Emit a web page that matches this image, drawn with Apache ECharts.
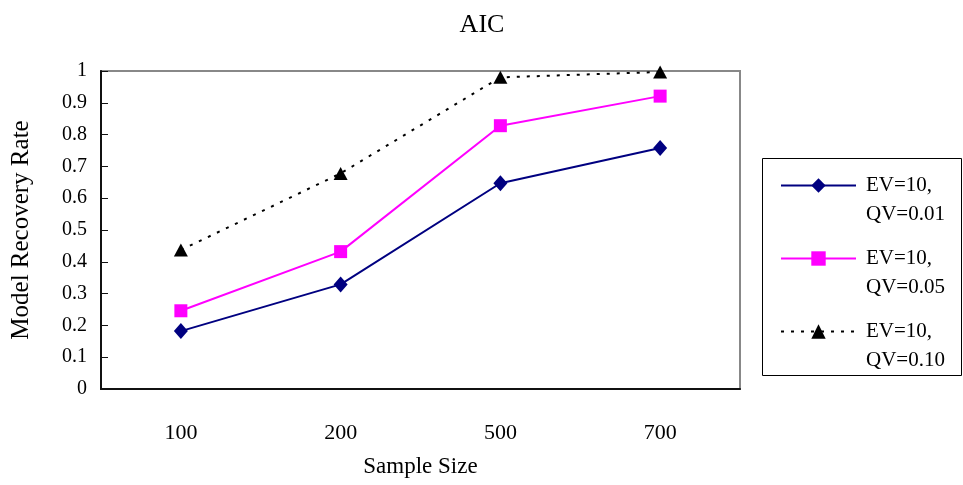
<!DOCTYPE html>
<html>
<head>
<meta charset="utf-8">
<script src="https://cdn.jsdelivr.net/npm/echarts@6/dist/echarts.min.js"></script>
<style>
  html, body { margin: 0; padding: 0; background: #fff; }
  #chart { width: 963px; height: 485px; }
</style>
</head>
<body>
<div id="chart"></div>
<script>
// sample sizes on the x axis
const sampleSizes = ["100", "200", "500", "700"];

// model recovery rates
const qv001 = [0.182, 0.329, 0.647, 0.758];
const qv005 = [0.246, 0.432, 0.828, 0.921];
const qv010 = [0.437, 0.678, 0.980, 0.997];

const seriesNames = ["EV=10,\nQV=0.01", "EV=10,\nQV=0.05", "EV=10,\nQV=0.10"];

const serif = "'Liberation Serif', 'DejaVu Serif', serif";

const chart = echarts.init(document.getElementById("chart"), null, { renderer: "canvas" });

const option = {
  backgroundColor: "#fff",
  animation: false,
  title: {
    text: "AIC",
    left: 477,
    top: 7,
    textAlign: "center",
    textStyle: { fontFamily: serif, fontSize: 26, fontWeight: "normal", color: "#000" },
  },
  grid: {
    left: 101,
    right: 223,
    top: 71,
    bottom: 96,
    show: true,
    borderColor: "#888",
    borderWidth: 2,
    backgroundColor: "#fff",
  },
  legend: {
    orient: "vertical",
    left: 780,
    top: 142,
    padding: 0,
    itemGap: -14,
    itemWidth: 75,
    itemHeight: 18,
    data: seriesNames,
    // leading blank line so the icon sits beside the first text line
    formatter: (name) => " \n" + name,
    textStyle: {
      fontFamily: serif,
      fontSize: 21,
      lineHeight: 29,
      color: "#000",
      padding: [0, 0, 0, 5],
    },
  },
  graphic: [
    {
      type: "rect",
      shape: { x: 762.5, y: 158.5, width: 199, height: 217 },
      style: { fill: "none", stroke: "#000", lineWidth: 1 },
      z: 100,
    },
  ],
  xAxis: {
    type: "category",
    data: sampleSizes,
    boundaryGap: true,
    name: "Sample Size",
    nameLocation: "middle",
    nameGap: 66,
    nameTextStyle: { fontFamily: serif, fontSize: 23, color: "#000" },
    axisLine: { lineStyle: { color: "#111", width: 2 } },
    axisTick: { inside: true, length: 8, lineStyle: { color: "#111", width: 1 } },
    axisLabel: { fontFamily: serif, fontSize: 22, color: "#000", margin: 33 },
    splitLine: { show: false },
  },
  yAxis: {
    type: "value",
    min: 0,
    max: 1,
    interval: 0.1,
    name: "Model Recovery Rate",
    nameLocation: "middle",
    nameGap: 67,
    nameTextStyle: { fontFamily: serif, fontSize: 25, color: "#000" },
    axisLine: { show: true, lineStyle: { color: "#111", width: 2 } },
    axisTick: { show: true, inside: true, length: 7, lineStyle: { color: "#111", width: 1 } },
    axisLabel: {
      fontFamily: serif,
      fontSize: 20,
      color: "#000",
      margin: 14,
      formatter: (v) => String(Math.round(v * 10) / 10),
    },
    splitLine: { show: false },
  },
  series: [
    {
      name: seriesNames[0],
      type: "line",
      data: qv001,
      symbol: "diamond",
      symbolSize: [14, 16],
      color: "#000080",
      lineStyle: { color: "#000080", width: 2 },
      itemStyle: { color: "#000080" },
    },
    {
      name: seriesNames[1],
      type: "line",
      data: qv005,
      symbol: "rect",
      symbolSize: 13,
      color: "#ff00ff",
      lineStyle: { color: "#ff00ff", width: 2 },
      itemStyle: { color: "#ff00ff" },
    },
    {
      name: seriesNames[2],
      type: "line",
      data: qv010,
      symbol: "triangle",
      symbolSize: [14, 13],
      color: "#000",
      lineStyle: { color: "#000", width: 2, type: [3, 7] },
      itemStyle: { color: "#000" },
    },
  ],
};

chart.setOption(option);
</script>
</body>
</html>
